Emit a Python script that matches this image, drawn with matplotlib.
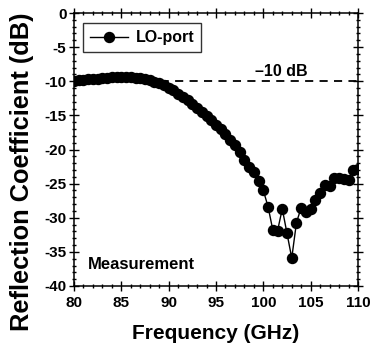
import matplotlib
matplotlib.use("Agg")
import matplotlib.pyplot as plt
from matplotlib.ticker import MultipleLocator

plt.rcParams['font.family'] = ['Liberation Sans', 'DejaVu Sans']
plt.rcParams['font.weight'] = 'bold'
plt.rcParams['axes.unicode_minus'] = False

freq_ghz = [80, 80.5, 81, 81.5, 82, 82.5, 83, 83.5, 84, 84.5, 85, 85.5, 86, 86.5,
            87, 87.5, 88, 88.5, 89, 89.5, 90, 90.5, 91, 91.5, 92, 92.5, 93, 93.5,
            94, 94.5, 95, 95.5, 96, 96.5, 97, 97.5, 98, 98.5, 99, 99.5, 100, 100.5,
            101, 101.5, 102, 102.5, 103, 103.5, 104, 104.5, 105, 105.5, 106, 106.5,
            107, 107.5, 108, 108.5, 109, 109.5, 110]
s11_db = [-9.9, -9.85, -9.8, -9.7, -9.65, -9.6, -9.5, -9.45, -9.4, -9.35, -9.35, -9.35,
          -9.4, -9.45, -9.55, -9.7, -9.85, -10.05, -10.3, -10.6, -10.95, -11.35, -11.8,
          -12.25, -12.75, -13.3, -13.85, -14.45, -15.05, -15.7, -16.35, -17.0, -17.8,
          -18.6, -19.3, -20.4, -21.5, -22.6, -23.3, -24.6, -26.0, -28.4, -31.8, -31.9,
          -28.7, -32.3, -35.9, -30.7, -28.5, -29.1, -28.7, -27.4, -26.4, -25.2, -25.3,
          -24.2, -24.2, -24.3, -24.4, -23.0, -22.8]
ref_level_db = -10

fig = plt.figure(figsize=(3.71, 3.47), dpi=100)
ax = fig.add_axes([0.1995, 0.1758, 0.7655, 0.7867])

ax.axhline(ref_level_db, color='black', lw=1.3, dashes=(4.5, 3.5), zorder=1)
ax.plot(freq_ghz, s11_db, color='black', lw=1.0, marker='o', markersize=7.2,
        label='LO-port', zorder=3)

ax.set_xlim(80, 110)
ax.set_ylim(-40, 0)
ax.xaxis.set_major_locator(MultipleLocator(5))
ax.xaxis.set_minor_locator(MultipleLocator(1))
ax.yaxis.set_major_locator(MultipleLocator(5))
ax.yaxis.set_minor_locator(MultipleLocator(1))
ax.tick_params(which='both', direction='inout', top=True, right=True, width=1.0)
ax.tick_params(which='major', length=7, labelsize=11)
ax.tick_params(axis='x', which='major', pad=4)
ax.tick_params(axis='y', which='major', pad=2)
ax.tick_params(which='minor', length=3.5)
for lbl in ax.get_xticklabels() + ax.get_yticklabels():
    lbl.set_fontweight('bold')
for sp in ax.spines.values():
    sp.set_linewidth(1.1)

ax.set_xlabel('Frequency (GHz)', fontsize=15, fontweight='bold', labelpad=10)
ax.set_ylabel('Reflection Coefficient (dB)', fontsize=18.3, fontweight='bold')
ax.yaxis.set_label_coords(-0.14, 0.418)

ax.text(101.9, -8.6, '\u201310 dB', fontsize=11.5, fontweight='bold', ha='center', va='center')
ax.text(81.5, -36.8, 'Measurement', fontsize=12, fontweight='bold', ha='left', va='center')

leg = ax.legend(loc='upper left', bbox_to_anchor=(0.02, 0.975), fontsize=11.5,
                frameon=True, fancybox=False, edgecolor='black', handlelength=2.4,
                borderpad=0.45, handletextpad=0.45, borderaxespad=0.2)
leg.get_frame().set_linewidth(1.0)
for t in leg.get_texts():
    t.set_fontweight('bold')

fig.savefig('out.png', dpi=100)
